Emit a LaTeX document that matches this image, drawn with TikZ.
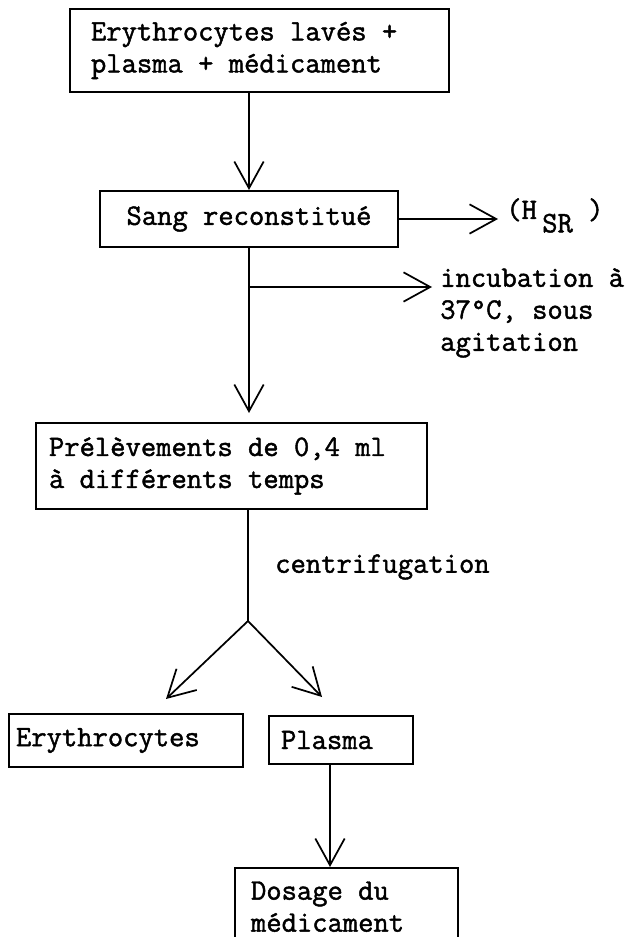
\documentclass[tikz,border=0pt]{standalone}
\usepackage{fontspec}
\setmonofont{Latin Modern Mono}[FakeBold=1.5]
\usepackage{tikz}
\usetikzlibrary{arrows.meta}

\begin{document}
\begin{tikzpicture}[x=0.75pt,y=0.75pt,yscale=-1,xscale=1,
  texte/.style={font=\ttfamily\fontsize{22.3}{24}\selectfont},
  boite/.style={texte,draw,line width=1.5pt,anchor=north west,inner ysep=0pt,align=left,
    execute at begin node={\spaceskip=0pt\xspaceskip=0pt}},
  fleche/.style={line width=1.3pt,-{Straight Barb[length=20pt,width=22pt,line width=1.3pt]}},
  trait/.style={line width=1.3pt}]
%set diagram left start at 0, and has height of 937
\useasboundingbox (0,0) rectangle (634,937);
\clip (0,0) rectangle (634,937);

%Shape: Rectangle [melange]
\node [boite,minimum width=284.25pt,minimum height=62.25pt,inner xsep=15.75pt,text width=252.75pt] (melange) at (69,8) {Erythrocytes lavés +\\plasma + médicament};
%Shape: Rectangle [sang]
\node [boite,minimum width=223.5pt,minimum height=42pt,inner xsep=15pt,text width=193.5pt,align=center] (sang) at (99,190) {Sang reconstitué};
%Shape: Rectangle [prelev]
\node [boite,minimum width=293.25pt,minimum height=64.5pt,inner xsep=9.75pt,text width=273.75pt] (prelev) at (35,422) {Prélèvements de 0,4 ml\\à différents temps};
%Shape: Rectangle [erythro]
\node [boite,minimum width=175.5pt,minimum height=39.75pt,inner xsep=5.25pt,text width=165pt] (erythro) at (8,713) {Erythrocytes};
%Shape: Rectangle [plasma]
\node [boite,minimum width=108pt,minimum height=36pt,inner xsep=9pt,text width=90pt] (plasma) at (268,715) {Plasma};
%Shape: Rectangle [dosage]
\node [boite,minimum width=167.25pt,minimum height=58pt,inner xsep=12pt,text width=143.25pt] (dosage) at (234,867) {Dosage du\\médicament};

% Text Node
\node [texte,anchor=base west,inner xsep=6pt,inner ysep=0pt] (hsr) at (498,219) {(H\hspace{4pt}\raisebox{-10pt}{SR} )};
% Text Node
\node [texte,anchor=north west,inner xsep=6pt,inner ysep=0pt,align=left] (incub) at (432,268) {incubation à\\37°C, sous\\agitation};
% Text Node
\node [texte,anchor=west,inner sep=0pt] (centri) at (275,567) {centrifugation};

\coordinate (embr) at (248,287);
\coordinate (fourche) at (248,621);
\coordinate (pointeE) at (166,699);
\coordinate (pointeP) at (322,697);

%Straight Lines
\draw [fleche] (sang.north |- melange.south) -- (sang.north);
\draw [fleche] (sang.east) -- (hsr.west |- sang.east);
\draw [fleche,shorten >=6.75pt] (sang.south) -- (sang.south |- prelev.north);
\draw [fleche] (embr) -- (embr -| incub.west);
\draw [trait] (prelev.south -| fourche) -- (fourche);
\draw [fleche] (fourche) -- (pointeE);
\draw [fleche] (fourche) -- (pointeP);
\draw [fleche] (330,0 |- plasma.south) -- (330,0 |- dosage.north);

\end{tikzpicture}
\end{document}
